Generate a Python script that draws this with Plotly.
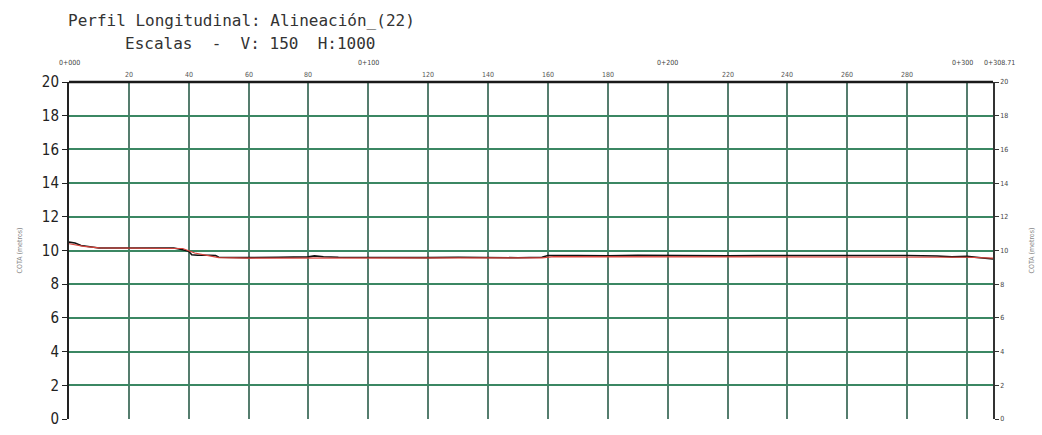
import plotly.graph_objects as go

# Stations (m) and elevations (m)
terreno_x = [0, 2, 4, 7, 10, 15, 20, 25, 30, 35, 38, 40, 41, 43, 47, 49, 50, 55, 60, 70, 80, 82, 85, 90,
             100, 110, 120, 130, 140, 150, 158, 160, 170, 180, 190, 200, 210, 220, 230, 240, 250,
             260, 270, 280, 290, 295, 300, 303, 305, 308.7]
terreno_y = [10.5, 10.45, 10.3, 10.22, 10.15, 10.15, 10.14, 10.15, 10.13, 10.15, 10.05, 9.95, 9.75, 9.72, 9.72,
             9.7, 9.6, 9.57, 9.58, 9.6, 9.62, 9.68, 9.63, 9.6, 9.58, 9.6, 9.58, 9.6, 9.58, 9.57, 9.6,
             9.7, 9.7, 9.68, 9.72, 9.7, 9.72, 9.68, 9.7, 9.7, 9.68, 9.72, 9.68, 9.7, 9.67, 9.62, 9.65,
             9.6, 9.55, 9.5]
rasante_x = [0, 5, 10, 38, 42, 50, 60, 100, 158, 162, 200, 250, 300, 308.7]
rasante_y = [10.4, 10.25, 10.15, 10.12, 9.85, 9.58, 9.55, 9.55, 9.56, 9.64, 9.64, 9.62, 9.6, 9.55]

minor_stations = [20, 40, 60, 80, 120, 140, 160, 180, 220, 240, 260, 280]
minor_labels = ["20", "40", "60", "80", "120", "140", "160", "180", "220", "240", "260", "280"]
major_stations = [0, 100, 200, 300, 308.7]
major_labels = ["0+000", "0+100", "0+200", "0+300", "0+308.71"]
y_ticks = [0, 2, 4, 6, 8, 10, 12, 14, 16, 18, 20]

X_END = 308.7
fig = go.Figure()

fig.add_trace(go.Scatter(x=terreno_x, y=terreno_y, mode="lines",
                         line=dict(color="#111111", width=1.6), showlegend=False))
fig.add_trace(go.Scatter(x=rasante_x, y=rasante_y, mode="lines",
                         line=dict(color="#d9443c", width=1.2), showlegend=False))
# dummy trace for right axis
fig.add_trace(go.Scatter(x=[0], y=[0], yaxis="y2", mode="markers",
                         marker=dict(opacity=0), showlegend=False, hoverinfo="skip"))

grid_font = "DejaVu Sans Condensed"
fig.update_layout(
    width=1042, height=435,
    margin=dict(l=69, r=47, t=82, b=7),
    paper_bgcolor="white", plot_bgcolor="white",
    xaxis=dict(range=[0, X_END], tick0=0, dtick=20, showticklabels=False,
               showgrid=True, gridcolor="#557d6e", gridwidth=2,
               zeroline=False, showline=False, ticks=""),
    yaxis=dict(range=[0, 20], tickvals=y_ticks, showgrid=True, gridcolor="#3b8763",
               gridwidth=2.2, zeroline=False, showline=True, linecolor="#222222",
               linewidth=2, ticks="outside", ticklen=5, tickcolor="#222222",
               tickfont=dict(family=grid_font, size=15, color="#222222"),
               title=dict(text="COTA (metros)", font=dict(family=grid_font, size=7, color="#888888"),
                          standoff=18)),
    yaxis2=dict(range=[0, 20], tickvals=y_ticks, overlaying="y", side="right",
                showgrid=False, zeroline=False, showline=True, linecolor="#333333",
                linewidth=1.5, ticks="outside", ticklen=4, tickcolor="#333333",
                tickfont=dict(family=grid_font, size=7, color="#444444"),
                title=dict(text="COTA (metros)", font=dict(family=grid_font, size=7, color="#888888"),
                           standoff=22)),
)

# top frame line
fig.add_shape(type="line", xref="paper", yref="paper", x0=0, x1=1, y0=1, y1=1,
              line=dict(color="#1a1a1a", width=2.5))

# station labels along top
for s, lab in zip(minor_stations, minor_labels):
    fig.add_annotation(x=s, y=1, xref="x", yref="paper", yshift=13, text=lab, showarrow=False,
                       font=dict(family=grid_font, size=7, color="#555555"))
for s, lab in zip(major_stations, major_labels):
    shift = -4 if lab == "0+300" else (6 if lab == "0+308.71" else 0)
    fig.add_annotation(x=s, y=1, xref="x", yref="paper", yshift=25, xshift=shift, text=lab,
                       showarrow=False, font=dict(family=grid_font, size=7, color="#444444"))

# title
fig.add_annotation(xref="paper", yref="paper", x=(66 - 69) / 926, y=1 + (82 - 19) / 346,
                   xanchor="left", yanchor="middle", showarrow=False,
                   text="Perfil Longitudinal: Alineación_(22)",
                   font=dict(family="DejaVu Sans Mono", size=16, color="#333333"))
fig.add_annotation(xref="paper", yref="paper", x=(123 - 69) / 926, y=1 + (82 - 42) / 346,
                   xanchor="left", yanchor="middle", showarrow=False,
                   text="Escalas  -  V: 150  H:1000",
                   font=dict(family="DejaVu Sans Mono", size=16, color="#333333"))

fig.write_html("out.html")
